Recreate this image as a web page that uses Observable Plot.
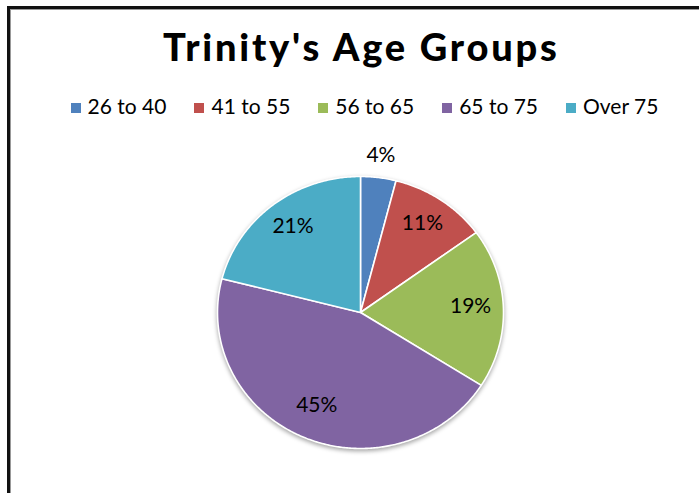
<!DOCTYPE html>
<html><head><meta charset="utf-8">
<script src="https://cdn.jsdelivr.net/npm/d3@7"></script>
<script src="https://cdn.jsdelivr.net/npm/@observablehq/plot@0.6"></script>
<style>
html,body{margin:0;padding:0;background:#fff;overflow:hidden;width:699px;height:493px;}
body{font-family:Lato,"Open Sans",sans-serif;color:#000;position:relative;}
#frame{position:absolute;left:7px;top:6px;width:800px;height:600px;border:3px solid #111;box-shadow:inset 1px 1px 0 #999;}
#title{position:absolute;left:0;top:23px;width:720px;text-align:center;font-size:38px;line-height:46px;font-weight:900;letter-spacing:2.8px;padding-left:2.8px;box-sizing:border-box;}
#legend{position:absolute;left:0;top:93px;width:729px;display:flex;justify-content:center;gap:28px;font-size:21px;line-height:26px;}
#legend .it{display:flex;align-items:center;}
#legend .sw{width:10px;height:10px;margin-right:7px;margin-top:3px;box-shadow:1px 1px 0 rgba(255,255,255,0.6);}
#chart{position:absolute;left:0;top:130px;}
</style></head>
<body>
<div id="frame"></div>
<div id="title"></div>
<div id="legend"></div>
<div id="chart"></div>
<script>
const title = "Trinity's Age Groups";
const categories = ["26 to 40", "41 to 55", "56 to 65", "65 to 75", "Over 75"];
const values = [4, 11, 19, 45, 21];
const colors = ["#4F81BD", "#C0504D", "#9BBB59", "#8064A2", "#4BACC6"];

document.getElementById("title").textContent = title;
const leg = document.getElementById("legend");
categories.forEach((c, i) => {
  const it = document.createElement("div"); it.className = "it";
  const sw = document.createElement("div"); sw.className = "sw"; sw.style.background = colors[i];
  const tx = document.createElement("span"); tx.textContent = c;
  it.appendChild(sw); it.appendChild(tx); leg.appendChild(it);
});

const total = d3.sum(values);
const arcs = d3.pie().sort(null).startAngle(0).endAngle(2 * Math.PI)(values);
const pts = [];
arcs.forEach((a, i) => {
  const key = categories[i];
  pts.push({key, x: 0, y: 0});
  const n = Math.max(2, Math.ceil((a.endAngle - a.startAngle) / 0.01));
  for (let k = 0; k <= n; k++) {
    const t = a.startAngle + (a.endAngle - a.startAngle) * k / n;
    pts.push({key, x: Math.sin(t), y: Math.cos(t)});
  }
  pts.push({key, x: 0, y: 0});
});
const labels = arcs.map((a, i) => {
  const m = (a.startAngle + a.endAngle) / 2;
  const r = values[i] / total < 0.05 ? 1.14 : 0.77;
  return {text: Math.round(values[i] / total * 100) + "%", x: r * Math.sin(m), y: r * Math.cos(m)};
});

const plot = Plot.plot({
  width: 699, height: 363,
  margin: 0,
  style: {background: "transparent", overflow: "visible", fontFamily: "Lato, sans-serif"},
  x: {domain: [-1, 1], range: [217, 503], axis: null},
  y: {domain: [-1, 1], range: [318, 46], axis: null},
  color: {domain: categories, range: colors},
  marks: [
    Plot.line(pts, {x: "x", y: "y", z: "key", fill: "key", stroke: "white", strokeWidth: 1.6, strokeLinejoin: "round", curve: "linear"}),
    Plot.text(labels, {x: "x", y: "y", text: "text", fontSize: 21, fill: "#000", dy: -3})
  ]
});
plot.querySelector("g[aria-label='line']")?.setAttribute("style", "filter: drop-shadow(0px 2px 2px rgba(0,0,0,0.35))");
document.getElementById("chart").appendChild(plot);
</script>
</body></html>
